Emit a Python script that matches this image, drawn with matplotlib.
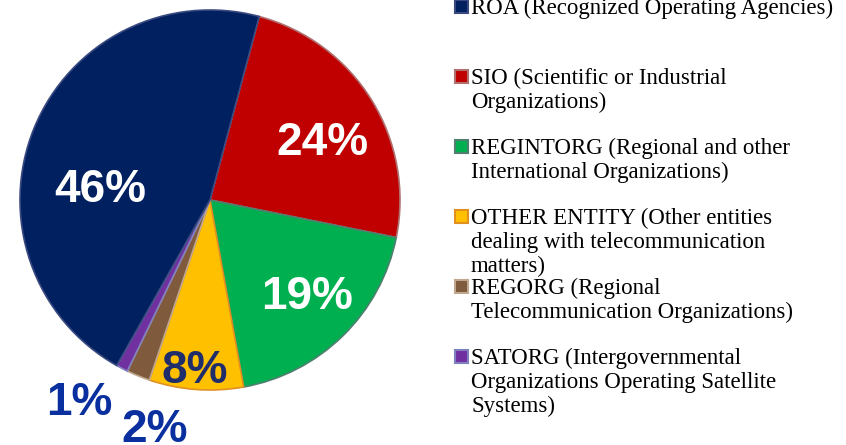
import matplotlib.pyplot as plt
from matplotlib.patches import Rectangle

# membership shares by category
categories = ["SIO", "REGINTORG", "OTHER ENTITY", "REGORG", "SATORG", "ROA"]
shares = [24, 19, 8, 2, 1, 46]
pct_labels = ["24%", "19%", "8%", "2%", "1%", "46%"]
colors = ["#c00000", "#00b050", "#ffc000", "#7f5a3c", "#7030a0", "#002060"]
edges = ["#b07070", "#4f7f6f", "#e09020", "#c0a890", "#8080c0", "#3a4a80"]

legend_order = ["ROA", "SIO", "REGINTORG", "OTHER ENTITY", "REGORG", "SATORG"]
legend_text = [
    ["ROA (Recognized Operating Agencies)"],
    ["SIO (Scientific or Industrial", "Organizations)"],
    ["REGINTORG (Regional and other", "International Organizations)"],
    ["OTHER ENTITY (Other entities", "dealing with telecommunication", "matters)"],
    ["REGORG (Regional", "Telecommunication Organizations)"],
    ["SATORG (Intergovernmental", "Organizations Operating Satellite", "Systems)"],
]

# label placement (pie units) and styles
label_xy = [(0.59, 0.30), (0.51, -0.51), (-0.08, -0.90), (-0.29, -1.21), (-0.69, -1.07), (-0.58, 0.05)]
label_col = ["white", "white", "#1f2d6b", "#0a2f9e", "#0a2f9e", "white"]

W, H = 846, 445
fig = plt.figure(figsize=(W / 100, H / 100), dpi=100)
cx, cy, R = 210, 200, 190
ax = fig.add_axes([(cx - R) / W, (H - cy - R) / H, 2 * R / W, 2 * R / H])

wedges, _ = ax.pie(shares, colors=colors, startangle=75, counterclock=False,
                   radius=1, wedgeprops=dict(linewidth=1.2))
for w, ec in zip(wedges, edges):
    w.set_edgecolor(ec)
ax.set_xlim(-1, 1)
ax.set_ylim(-1, 1)
ax.set_aspect("equal")

for txt, (x, y), c in zip(pct_labels, label_xy, label_col):
    ax.text(x, y, txt, ha="center", va="center", color=c, fontsize=33,
            fontweight="bold", family="Liberation Sans", clip_on=False)

# legend drawn by hand: one entry every 70 px, lines 24 px apart
for i, (name, lines) in enumerate(zip(legend_order, legend_text)):
    base = 14 + 70 * i
    c = colors[categories.index(name)]
    ec = edges[categories.index(name)]
    for j, line in enumerate(lines):
        fig.text(471 / W, 1 - (base + 24 * j) / H, line, ha="left", va="baseline",
                 fontsize=16.5, family="Liberation Serif")
    fig.patches.append(Rectangle((455 / W, 1 - (base - 1) / H), 13 / W, 13 / H,
                                 transform=fig.transFigure, facecolor=c,
                                 edgecolor=ec, linewidth=1.5))

fig.savefig("out.png", dpi=100)
